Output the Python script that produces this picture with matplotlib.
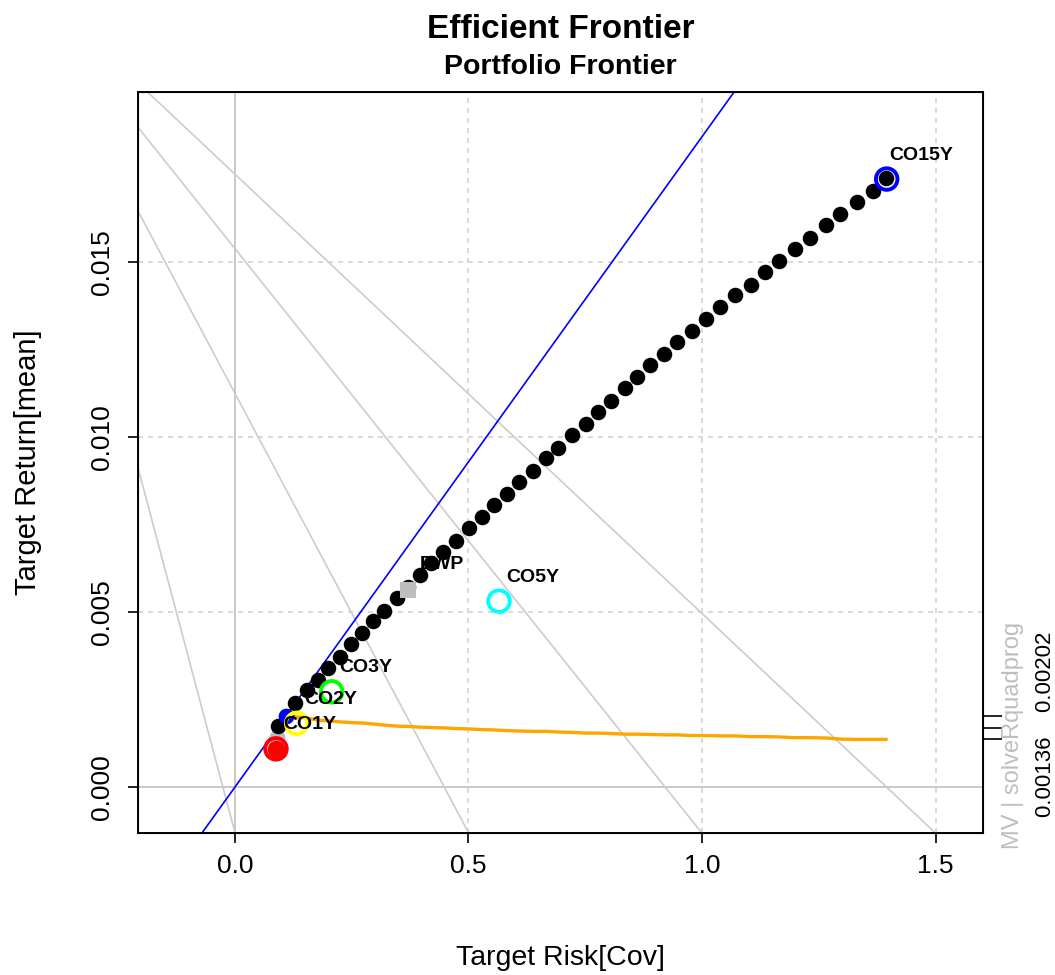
import numpy as np
import matplotlib.pyplot as plt

plt.rcParams['font.family'] = ['Liberation Sans', 'DejaVu Sans']

# efficient frontier (target risk / target return)
frontier_risk = [0.0878, 0.0899, 0.0921, 0.1086, 0.1285, 0.1535, 0.1784, 0.1998, 0.2248, 0.2484,
                 0.2726, 0.2961, 0.3191, 0.3463, 0.3704, 0.3961, 0.4197, 0.4460, 0.4732, 0.5017,
                 0.5283, 0.5546, 0.5818, 0.6088, 0.6388, 0.6660, 0.6923, 0.7210, 0.7510, 0.7779,
                 0.8045, 0.8351, 0.8615, 0.8887, 0.9193, 0.9458, 0.9779, 1.0086, 1.0385, 1.0707,
                 1.1043, 1.1349, 1.1655, 1.1991, 1.2313, 1.2655, 1.2955, 1.3313, 1.3655, 1.3940]
frontier_return = [0.00111, 0.00143, 0.00174, 0.00204, 0.00239, 0.00277, 0.00306, 0.00339, 0.00371, 0.00409,
                   0.00439, 0.00474, 0.00504, 0.00541, 0.00571, 0.00606, 0.00640, 0.00672, 0.00704, 0.00741,
                   0.00771, 0.00806, 0.00837, 0.00872, 0.00904, 0.00939, 0.00969, 0.01006, 0.01037, 0.01071,
                   0.01103, 0.01139, 0.01171, 0.01206, 0.01237, 0.01272, 0.01304, 0.01338, 0.01371, 0.01406,
                   0.01434, 0.01471, 0.01504, 0.01537, 0.01569, 0.01606, 0.01636, 0.01671, 0.01703, 0.01739]
n_inefficient = 2

# sharpe ratio curve (scaled), from tangency point onwards
sharpe_value = [0.00202, 0.00201, 0.00197, 0.00191, 0.00189, 0.00186, 0.00184, 0.00183, 0.00180, 0.00177,
                0.00174, 0.00173, 0.00171, 0.00170, 0.00169, 0.00167, 0.00166, 0.00164, 0.00163, 0.00161,
                0.00160, 0.00159, 0.00159, 0.00157, 0.00156, 0.00154, 0.00154, 0.00153, 0.00151, 0.00151,
                0.00150, 0.00149, 0.00149, 0.00147, 0.00147, 0.00146, 0.00146, 0.00144, 0.00144, 0.00143,
                0.00141, 0.00141, 0.00140, 0.00137, 0.00136, 0.00136, 0.00136]
sharpe_risk = frontier_risk[3:]
sharpe_range = [0.00136, 0.00202]

asset_names = ['CO1Y', 'CO2Y', 'CO3Y', 'CO5Y', 'CO15Y']
asset_risk = [0.0878, 0.1321, 0.2071, 0.5653, 1.3955]
asset_return = [0.00109, 0.00182, 0.00272, 0.00531, 0.01737]
asset_colors = ['#FF0000', '#FFFF00', '#00FF00', '#00FFFF', '#0000FF']

mvp_risk, mvp_return = 0.0870, 0.00110
tangency_risk, tangency_return = 0.1086, 0.00204
tangency_slope = 0.01858
ewp_risk, ewp_return = 0.3704, 0.00563

# grey guide lines: zero-return crossing and slope
guide_x0 = [-0.026, 0.448, 0.921, 1.395]
guide_slope = [-0.0502, -0.0251, -0.0167, -0.01255]

fig = plt.figure(figsize=(10.55, 9.75), dpi=100)
ax = fig.add_axes([138/1055, 1-833/975, (983-138)/1055, (833-92)/975])
ax.set_xlim(-0.2077, 1.6017)
ax.set_ylim(-0.001314, 0.019857)

for v in [0.5, 1.0, 1.5]:
    ax.axvline(v, color='#d3d3d3', lw=1.2, ls=(0, (3, 3)), zorder=0)
for v in [0.005, 0.010, 0.015]:
    ax.axhline(v, color='#d3d3d3', lw=1.2, ls=(0, (3, 3)), zorder=0)
ax.axvline(0, color='#c0c0c0', lw=1.2, zorder=0)
ax.axhline(0, color='#c0c0c0', lw=1.2, zorder=0)

for x0, s in zip(guide_x0, guide_slope):
    ax.axline((x0, 0), slope=s, color='#cccccc', lw=1.2, zorder=1)

ax.axline((0, 0), slope=tangency_slope, color='#0000FF', lw=1.2, zorder=2)

ax.plot(sharpe_risk, sharpe_value, color='#FFA500', lw=2.4, zorder=3)

fr = np.array(frontier_risk)
fv = np.array(frontier_return)
ax.scatter(fr[:n_inefficient], fv[:n_inefficient], s=125, color='#bebebe', zorder=4, linewidths=0)
ax.scatter(fr[n_inefficient:], fv[n_inefficient:], s=125, color='black', zorder=4, linewidths=0)

ax.scatter([mvp_risk], [mvp_return], s=160, color='#FF0000', zorder=5, linewidths=0)
ax.scatter([tangency_risk], [tangency_return], s=120, color='#0000FF', zorder=5, linewidths=0)
ax.scatter([ewp_risk], [ewp_return], s=120, marker='s', color='#bebebe', zorder=5, linewidths=0)
ax.annotate('EWP', (ewp_risk, ewp_return), xytext=(34, 25), textcoords='offset pixels',
            ha='center', va='center', fontsize=14, fontweight='bold', zorder=6)

ax.scatter(asset_risk, asset_return, s=240, facecolors='none', edgecolors=asset_colors,
           linewidths=2.8, zorder=6)
for name, x, y in zip(asset_names, asset_risk, asset_return):
    ax.annotate(name, (x, y), xytext=(34, 24), textcoords='offset pixels',
                ha='center', va='center', fontsize=14, fontweight='bold', zorder=7)

ax.set_xticks([0.0, 0.5, 1.0, 1.5])
ax.set_xticklabels(['0.0', '0.5', '1.0', '1.5'])
ax.set_yticks([0.0, 0.005, 0.010, 0.015])
ax.set_yticklabels(['0.000', '0.005', '0.010', '0.015'], rotation=90, va='center')
ax.tick_params(axis='both', direction='out', length=7, width=1.2, labelsize=19)
ax.tick_params(axis='x', pad=8)
ax.tick_params(axis='y', pad=10)
for sp in ax.spines.values():
    sp.set_linewidth(1.4)

ax.set_xlabel('Target Risk[Cov]', fontsize=20.5, va='center')
ax.xaxis.set_label_coords(0.5, (833-958)/741)
ax.set_ylabel('Target Return[mean]', fontsize=21, va='center')
ax.yaxis.set_label_coords((28-138)/845, 0.5)

# right axis with sharpe ratio range
twin = ax.twinx()
twin.set_ylim(ax.get_ylim())
twin.set_yticks([sharpe_range[0], np.mean(sharpe_range), sharpe_range[1]])
twin.set_yticklabels(['', '', ''])
twin.tick_params(axis='y', direction='out', length=14, width=1.2)
twin.text(1.074, 0.00179, '%.5f    %.5f' % (sharpe_range[0], sharpe_range[1]),
          transform=twin.get_yaxis_transform(), rotation=90, ha='center', va='center', fontsize=16)
twin.text(1.035, 0.00146, 'MV | solveRquadprog', transform=twin.get_yaxis_transform(),
          rotation=90, ha='center', va='center', fontsize=17, color='#bebebe')

fig.text((138+983)/2/1055, 1-29/975, 'Efficient Frontier', ha='center', va='center',
         fontsize=24, fontweight='bold')
fig.text((138+983)/2/1055, 1-67/975, 'Portfolio Frontier', ha='center', va='center',
         fontsize=20.5, fontweight='bold')

fig.savefig('out.png', dpi=100)
